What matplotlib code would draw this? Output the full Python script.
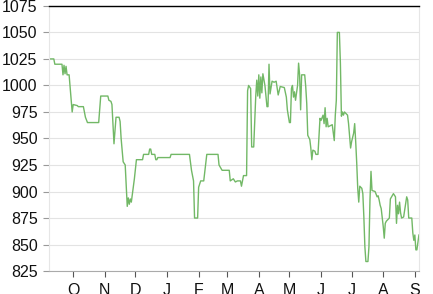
import datetime as dt
import matplotlib
matplotlib.use('Agg')
import matplotlib.pyplot as plt
import matplotlib.dates as mdates
from matplotlib.ticker import FuncFormatter

START = dt.date(2013, 10, 1)

# days after 1 Oct and the value
days = [
    -24, -19, -18, -11, -10, -9, -8, -7, -6, -4, -1, 0, 4, 5, 10, 12, 14, 25, 27, 34,
    35, 37, 38, 40, 42, 45, 46, 47, 49, 51, 53, 54, 55, 56, 57, 60, 62, 68, 69, 74,
    75, 76, 77, 80, 81, 82, 83, 95, 96, 114, 116, 118, 119, 122, 123, 124, 125, 128, 131, 142,
    143, 146, 153, 154, 157, 159, 161, 164, 165, 167, 170, 171, 172, 174, 175, 177, 179, 180, 181, 182,
    183, 184, 185, 186, 188, 190, 191, 192, 193, 195, 197, 199, 201, 203, 207, 209, 210, 212, 213, 214,
    215, 216, 217, 218, 220, 221, 222, 223, 224, 227, 228, 229, 230, 232, 233, 234, 235, 237, 238, 240,
    242, 243, 245, 246, 247, 248, 249, 250, 254, 256, 257, 258, 259, 261, 262, 263, 264, 265, 266, 269,
    270, 272, 273, 275, 276, 277, 278, 279, 280, 281, 283, 284, 285, 286, 287, 289, 290, 291, 292, 293,
    296, 298, 299, 300, 301, 302, 304, 305, 306, 307, 310, 311, 314, 316, 317, 318, 319, 320, 321, 322,
    324, 327, 328, 329, 332, 333, 334, 335, 336, 337, 339,
]
values = [
    1025, 1025, 1020, 1020, 1010, 1019, 1011, 1018, 1010, 1010, 975, 982, 981, 980, 980, 970, 965, 965, 990, 990,
    986, 985, 982, 945, 970, 970, 966, 950, 928, 925, 886, 894, 888, 893, 890, 912, 930, 930, 935, 935,
    940, 940, 935, 935, 930, 930, 932, 932, 935, 935, 920, 910, 875, 875, 904, 907, 910, 910, 935, 935,
    925, 920, 920, 910, 912, 909, 910, 910, 905, 915, 915, 995, 1000, 997, 942, 942, 990, 1005, 990, 1010,
    988, 1008, 993, 1011, 1000, 980, 980, 1020, 992, 1004, 1003, 1004, 991, 999, 998, 989, 977, 965, 965, 997,
    1000, 989, 994, 986, 1000, 1021, 1010, 977, 1010, 1010, 999, 983, 953, 949, 941, 930, 939, 938, 935, 935,
    969, 967, 972, 964, 979, 961, 969, 961, 963, 948, 972, 986, 1050, 1050, 1021, 971, 975, 972, 975, 972,
    964, 941, 947, 955, 964, 947, 927, 903, 890, 905, 903, 898, 876, 848, 834, 834, 848, 892, 919, 901,
    900, 895, 896, 892, 887, 884, 867, 856, 870, 872, 875, 893, 898, 895, 870, 887, 879, 890, 880, 875,
    876, 895, 892, 875, 875, 861, 854, 859, 845, 845, 859,
]

y_ticks = [825, 850, 875, 900, 925, 950, 975, 1000, 1025, 1050, 1075]

dates = [START + dt.timedelta(days=d) for d in days]

plt.rcParams['font.family'] = ['Liberation Sans', 'DejaVu Sans']

fig = plt.figure(figsize=(4.33, 2.94), dpi=100)
ax = fig.add_axes([0.1125, 0.078, 0.855, 0.902])

ax.plot(dates, values, color='#72b866', lw=1.0)

ax.set_ylim(825, 1075)
ax.set_yticks(y_ticks)
ax.set_xlim(START + dt.timedelta(days=-24), START + dt.timedelta(days=339))
ax.xaxis.set_major_locator(mdates.MonthLocator())
ax.xaxis.set_major_formatter(FuncFormatter(lambda x, pos: mdates.num2date(x).strftime('%b')[0]))

ax.grid(axis='y', color='#e3e3e3', lw=0.8)
ax.set_axisbelow(True)
for side in ['left', 'right']:
    ax.spines[side].set_color('#e6e6e6')
    ax.spines[side].set_linewidth(0.8)
ax.spines['bottom'].set_color('#aaaaaa')
ax.spines['bottom'].set_linewidth(0.8)
ax.spines['top'].set_color('black')
ax.spines['top'].set_linewidth(1.0)

ax.tick_params(axis='y', length=4, width=0.8, color='#999999', pad=4, labelsize=11.5, labelcolor='#111111')
ax.tick_params(axis='x', length=4, width=0.8, color='#555555', pad=4.5, labelsize=11.5, labelcolor='#111111')

fig.savefig('out.png', dpi=100)
